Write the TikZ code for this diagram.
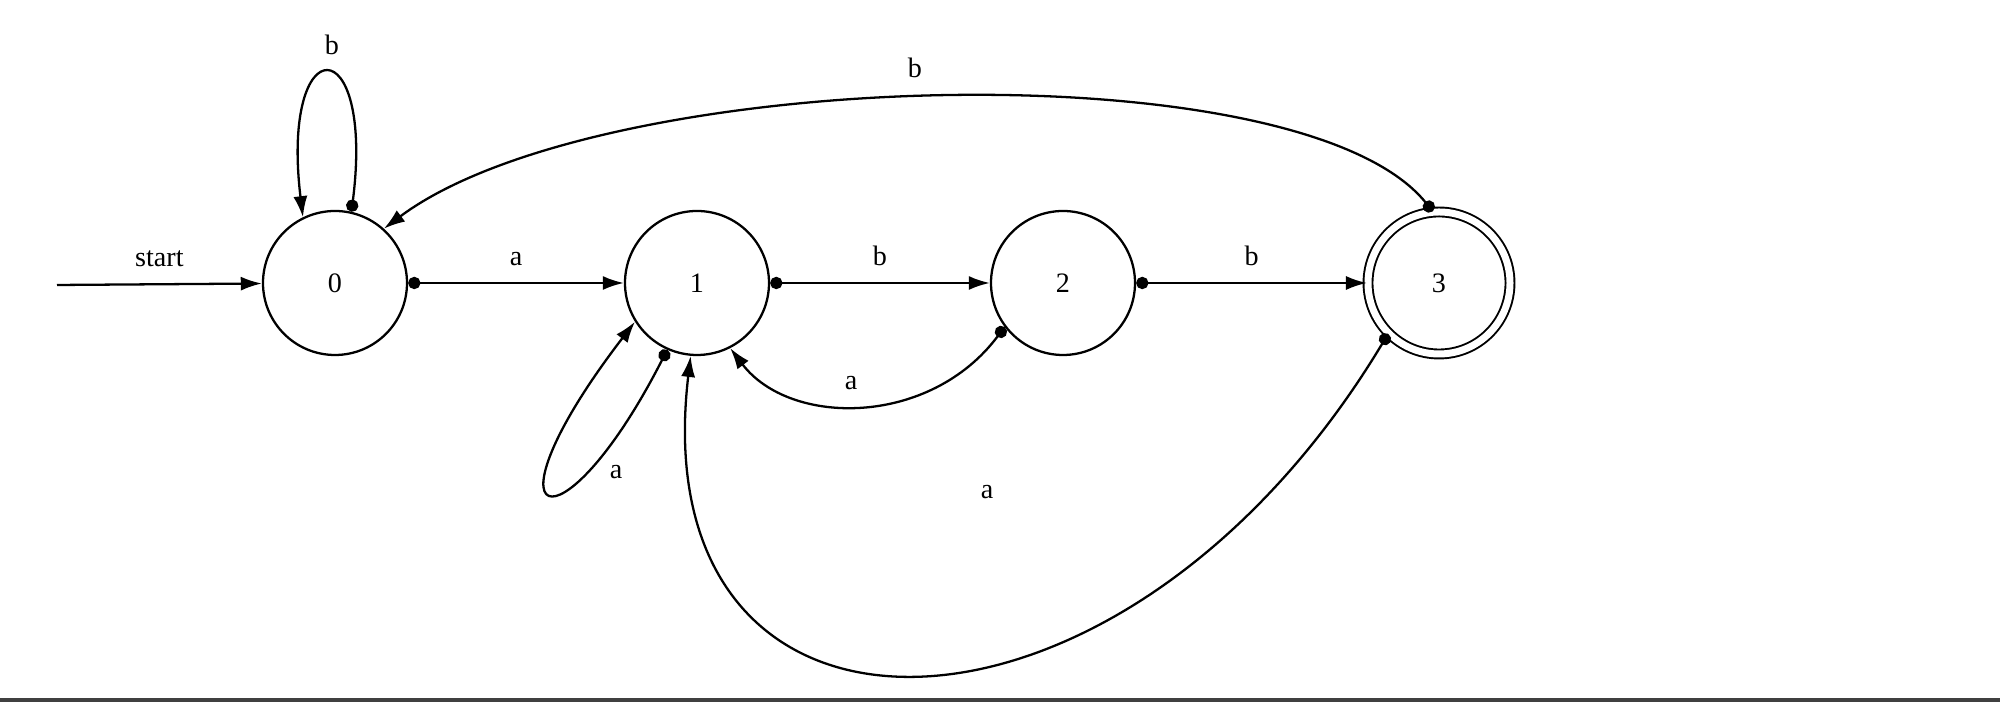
\documentclass[tikz,border=0pt]{standalone}
\usepackage{fontspec}
\setmainfont{Liberation Serif}
\usetikzlibrary{arrows.meta,positioning}

\begin{document}
\begin{tikzpicture}[
    state/.style={circle, draw, line width=1.3pt, minimum size=2.88cm, inner sep=0pt},
    accept/.style={circle, draw, double, double distance=0.14cm, line width=1.1pt, minimum size=2.84cm, inner sep=0pt},
    trans/.style={line width=1.3pt, {Circle[length=7pt]}-{Latex[length=12pt,width=8pt]}},
    lbl/.style={font=\fontsize{16}{19}\selectfont}
]
    \useasboundingbox (0,0) rectangle (40,14.04);
    \fill[black!75] (0,0) rectangle (40,0.07);

    \node[state, lbl] (q0) at (6.7,8.38) {0};
    \node[state, lbl] (q1) at (13.94,8.38) {1};
    \node[state, lbl] (q2) at (21.26,8.38) {2};
    \node[accept, lbl] (q3) at (28.78,8.38) {3};
    \coordinate (s) at (1.14,8.34);

    \draw[line width=1.3pt, -{Latex[length=12pt,width=8pt]}] (s) -- (q0) node[lbl, midway, above=6pt] {start};
    \draw[trans] (q0) -- (q1) node[lbl, midway, above=6pt] {a};
    \draw[trans] (q1) -- (q2) node[lbl, midway, above=6pt] {b};
    \draw[trans] (q2) -- (q3) node[lbl, midway, above=6pt] {b};

    % back edges and loops
    \draw[trans] (q3.95) .. controls (26,13.1) and (12,12.7) .. (q0.48);
    \node[lbl] (lb30) at (18.3,12.68) {b};
    \draw[trans] (q0.77) .. controls (7.5,13.5) and (5.6,13.5) .. (q0.116);
    \node[lbl] (lb00) at (6.64,13.14) {b};
    \draw[trans] (q1.246) .. controls (11.2,2.84) and (9.5,3.44) .. (q1.212);
    \node[lbl] (lb11) at (12.32,4.6) {a};
    \draw[trans] (q2.217) .. controls (18.6,5.5) and (15.8,5.5) .. (q1.297);
    \node[lbl] (lb21) at (17.02,6.38) {a};
    \draw[trans] (q3.225) .. controls (22.4,-1.56) and (12.8,-1.66) .. (q1.265);
    \node[lbl] (lb31) at (19.74,4.2) {a};
\end{tikzpicture}
\end{document}
